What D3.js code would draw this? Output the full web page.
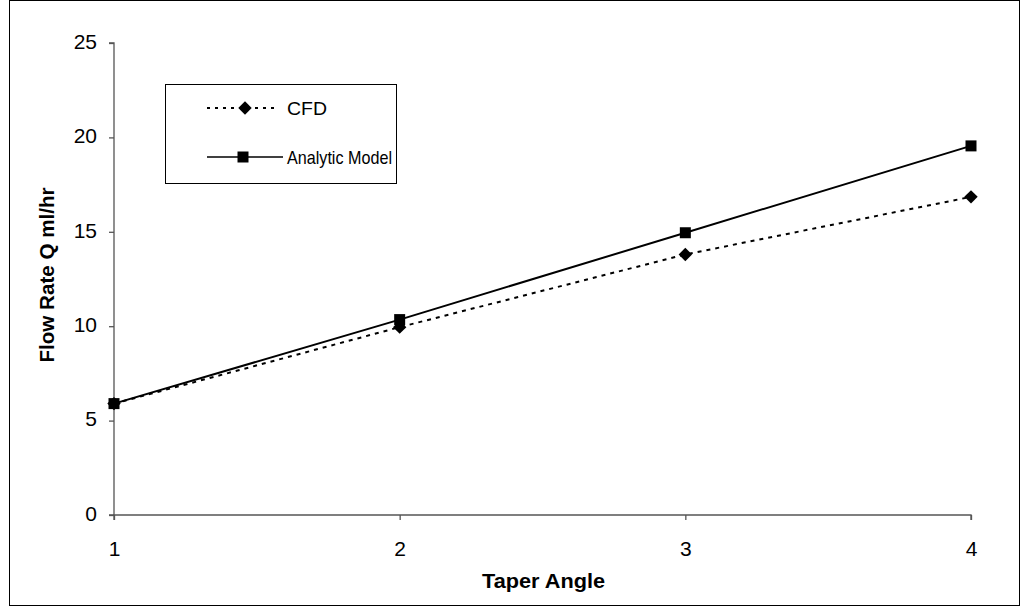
<!DOCTYPE html>
<html><head><meta charset="utf-8">
<script src="https://cdn.jsdelivr.net/npm/d3@7"></script>
<style>body{margin:0;background:#fff;} text{font-family:"Liberation Sans",Arial,sans-serif;}</style>
</head><body>
<svg id="c" width="1021" height="607"></svg>
<script>
const angles = [1, 2, 3, 4];
const cfd = [5.9, 9.95, 13.8, 16.85];
const analytic = [5.9, 10.35, 14.95, 19.55];
const yTicks = [0, 5, 10, 15, 20, 25];
const xTicks = [1, 2, 3, 4];

const svg = d3.select("#c");
svg.append("rect").attr("x", 9.5).attr("y", 0.5).attr("width", 1010).attr("height", 605)
  .attr("fill", "none").attr("stroke", "#000").attr("stroke-width", 1);

const x = d3.scaleLinear().domain([1, 4]).range([114, 971]);
const y = d3.scaleLinear().domain([0, 25]).range([515, 43]);

const ax = svg.append("g").attr("transform", "translate(0,515)")
  .call(d3.axisBottom(x).tickValues(xTicks).tickFormat(d3.format("d")).tickSize(5).tickPadding(21));
const ay = svg.append("g").attr("transform", "translate(114,0)")
  .call(d3.axisLeft(y).tickValues(yTicks).tickSize(5).tickPadding(12));
[ax, ay].forEach(g => {
  g.attr("font-size", 21).attr("font-family", "'Liberation Sans',Arial,sans-serif");
  g.select(".domain").attr("stroke", "#555").attr("stroke-width", 1.3);
  g.selectAll(".tick line").attr("stroke", "#555").attr("stroke-width", 1.3);
  g.selectAll(".tick text").attr("fill", "#000");
});
ay.selectAll(".tick text").attr("dy", "0.25em");
ax.selectAll(".tick text").attr("dy", "0.72em");
ax.select(".domain").attr("d", "M114,5V0H971V5");
ay.select(".domain").attr("d", "M-5,43H0V515H-5");

const line = d3.line().x((d, i) => x(angles[i])).y(d => y(d));
svg.append("path").datum(analytic).attr("d", line).attr("fill", "none")
  .attr("stroke", "#000").attr("stroke-width", 2);
svg.append("path").datum(cfd).attr("d", line).attr("fill", "none")
  .attr("stroke", "#000").attr("stroke-width", 2).attr("stroke-dasharray", "4,5");

const sq = d3.symbol().type(d3.symbolSquare).size(121);
const dm = d3.symbol().type(d3.symbolSquare).size(90);
svg.selectAll(".sq").data(analytic).enter().append("path")
  .attr("d", sq).attr("transform", (d, i) => `translate(${x(angles[i])},${y(d)})`).attr("fill", "#000");
svg.selectAll(".dm").data(cfd).enter().append("path")
  .attr("d", dm).attr("transform", (d, i) => `translate(${x(angles[i])},${y(d)}) rotate(45)`).attr("fill", "#000");

// legend
const lg = svg.append("g");
lg.append("rect").attr("x", 165.5).attr("y", 84.5).attr("width", 231).attr("height", 99)
  .attr("fill", "#fff").attr("stroke", "#000").attr("stroke-width", 1);
lg.append("line").attr("x1", 207).attr("x2", 278).attr("y1", 108).attr("y2", 108)
  .attr("stroke", "#000").attr("stroke-width", 2).attr("stroke-dasharray", "3,5");
lg.append("path").attr("d", dm).attr("transform", "translate(245,108) rotate(45)").attr("fill", "#000");
lg.append("line").attr("x1", 207).attr("x2", 283).attr("y1", 157).attr("y2", 157)
  .attr("stroke", "#000").attr("stroke-width", 1.5);
lg.append("path").attr("d", sq).attr("transform", "translate(243,157)").attr("fill", "#000");
lg.append("text").attr("x", 287).attr("y", 114.5).attr("font-size", 19)
  .attr("textLength", 40).attr("lengthAdjust", "spacingAndGlyphs").text("CFD");
lg.append("text").attr("x", 287).attr("y", 163.5).attr("font-size", 19)
  .attr("textLength", 105).attr("lengthAdjust", "spacingAndGlyphs").text("Analytic Model");

svg.append("text").attr("x", 543.5).attr("y", 588).attr("text-anchor", "middle")
  .attr("font-size", 21).attr("font-weight", "bold").attr("textLength", 123).attr("lengthAdjust", "spacingAndGlyphs").text("Taper Angle");
svg.append("text").attr("transform", "translate(54,275) rotate(-90)").attr("text-anchor", "middle")
  .attr("font-size", 21).attr("font-weight", "bold").attr("textLength", 175).attr("lengthAdjust", "spacingAndGlyphs").text("Flow Rate Q ml/hr");
</script>
</body></html>
